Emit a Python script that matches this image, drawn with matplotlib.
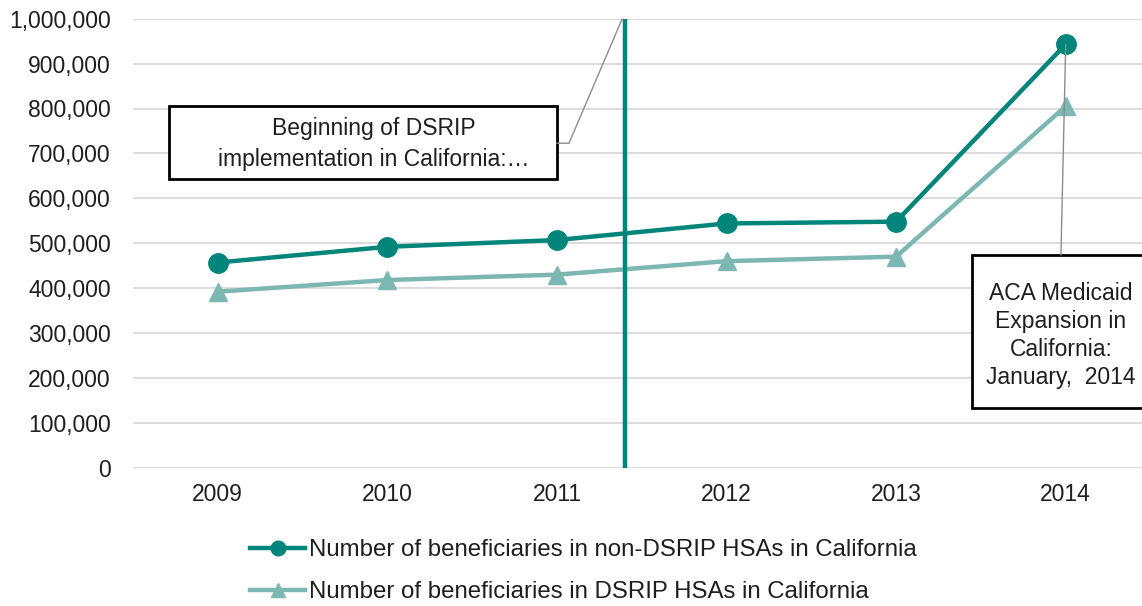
import matplotlib
matplotlib.use('Agg')
import matplotlib.pyplot as plt
from matplotlib.patches import Rectangle
from matplotlib.ticker import FuncFormatter, MultipleLocator

plt.rcParams['font.family'] = ['Liberation Sans', 'DejaVu Sans']

# Data
years = ['2009', '2010', '2011', '2012', '2013', '2014']
non_dsrip = [457000, 492000, 507000, 544000, 548000, 943000]
dsrip = [392000, 418000, 430000, 460000, 470000, 805000]
dsrip_start = 2.4  # position between 2011 and 2012 categories

non_label = 'Number of beneficiaries in non-DSRIP HSAs in California'
dsrip_label = 'Number of beneficiaries in DSRIP HSAs in California'
note_dsrip = 'Beginning of DSRIP\nimplementation in California:\u2026'
note_aca = 'ACA Medicaid\nExpansion in\nCalifornia:\nJanuary,  2014'

dark = '#00857A'
light = '#7DB7B1'
text_col = '#1E1E1E'
fs = 16.5

fig = plt.figure(figsize=(11.42, 6.06), dpi=100)
ax = fig.add_axes([133 / 1142, 1 - 467.7 / 606, 1017.5 / 1142, 449 / 606])

x = list(range(len(years)))
ax.plot(x, non_dsrip, color=dark, lw=3.2, marker='o', ms=14, label=non_label, zorder=4)
ax.plot(x, dsrip, color=light, lw=3.2, marker='^', ms=13, label=dsrip_label, zorder=3)

# DSRIP start line
ax.plot([dsrip_start, dsrip_start], [0, 1000000], color=dark, lw=3.2, zorder=5)

ax.set_xlim(-0.5, 5.5)
ax.set_ylim(0, 1000000)
ax.set_xticks(x)
ax.set_xticklabels(years)
ax.yaxis.set_major_locator(MultipleLocator(100000))
ax.yaxis.set_major_formatter(FuncFormatter(lambda v, p: f'{int(v):,}'))
ax.grid(axis='y', color='#D9D9D9', lw=1.3)
ax.set_axisbelow(True)
for s in ax.spines.values():
    s.set_visible(False)
ax.tick_params(axis='both', length=0, labelsize=fs, colors=text_col)
ax.tick_params(axis='y', pad=16)
ax.tick_params(axis='x', pad=11)

# Callout 1: DSRIP implementation
ax.add_patch(Rectangle((0.0354, 0.643), 0.3813, 0.1626, transform=ax.transAxes,
                       facecolor='white', edgecolor='black', lw=2, zorder=6))
ax.text(0.237, 0.721, note_dsrip, transform=ax.transAxes, ha='center', va='center',
        fontsize=fs, color=text_col, linespacing=1.4, zorder=7)
ax.plot([0.4167, 0.4285, 0.4806], [0.7227, 0.7227, 0.999], transform=ax.transAxes,
        color='#8C8C8C', lw=1, zorder=6, clip_on=False)

# Callout 2: ACA expansion
ax.add_patch(Rectangle((0.8246, 0.133), 0.2, 0.3407, transform=ax.transAxes,
                       facecolor='white', edgecolor='black', lw=2, zorder=6, clip_on=False))
ax.text(0.912, 0.2944, note_aca, transform=ax.transAxes, ha='center', va='center',
        fontsize=fs, color=text_col, linespacing=1.26, zorder=7)
ax.annotate('', xy=(5, non_dsrip[-1]), xytext=(0.912, 0.4737), textcoords='axes fraction',
            arrowprops=dict(arrowstyle='-', color='#8C8C8C', lw=1, shrinkA=0, shrinkB=0),
            zorder=6)

leg = fig.legend(loc='upper left', bbox_to_anchor=(250 / 1142, 1 - 539 / 606),
                 frameon=False, fontsize=17.3, handlelength=2.3, handletextpad=0.15,
                 labelspacing=0.85, borderpad=0, borderaxespad=0, markerscale=0.75)
for t in leg.get_texts():
    t.set_color(text_col)

fig.savefig('out.png', dpi=100)
